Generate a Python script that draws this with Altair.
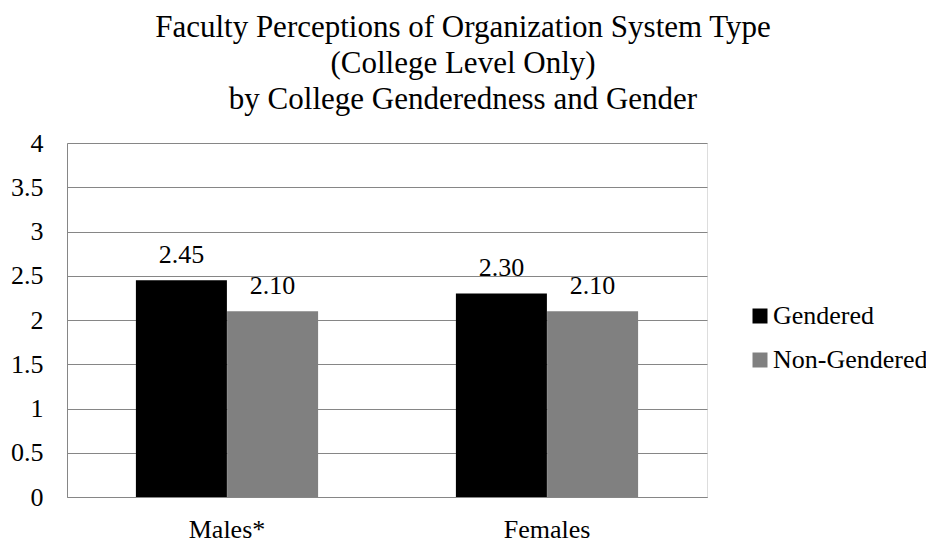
import altair as alt
import pandas as pd

categories = ["Males*", "Females"]
series = ["Gendered", "Non-Gendered"]
gendered = [2.45, 2.30]
non_gendered = [2.10, 2.10]
y_ticks = [0, 0.5, 1, 1.5, 2, 2.5, 3, 3.5, 4]
title_lines = [
    "Faculty Perceptions of Organization System Type",
    "(College Level Only)",
    "by College Genderedness and Gender",
]
colors = ["#000000", "#808080"]

rows = []
for i, c in enumerate(categories):
    rows.append({"group": c, "series": series[0], "value": gendered[i]})
    rows.append({"group": c, "series": series[1], "value": non_gendered[i]})
df = pd.DataFrame(rows)

FONT = "'Liberation Serif', 'Times New Roman', Times, serif"
GRID = "#868686"

x = alt.X(
    "group:N",
    sort=categories,
    title=None,
    scale=alt.Scale(paddingInner=0.43, paddingOuter=0.215),
    axis=alt.Axis(
        labelAngle=0, labelFont=FONT, labelFontSize=26, labelColor="black",
        ticks=False, tickSize=0, labelPadding=19, domainColor=GRID, grid=False,
    ),
)
xoff = alt.XOffset("series:N", sort=series, scale=alt.Scale(paddingInner=0, paddingOuter=0))
y = alt.Y(
    "value:Q",
    title=None,
    scale=alt.Scale(domain=[0, 4], nice=False),
    axis=alt.Axis(
        values=y_ticks, format="~g", labelFont=FONT, labelFontSize=26, labelColor="black",
        ticks=False, tickSize=0, labelPadding=24, domainColor=GRID,
        gridColor=GRID, gridWidth=1, grid=True,
    ),
)
color = alt.Color(
    "series:N",
    sort=series,
    scale=alt.Scale(domain=series, range=colors),
    legend=alt.Legend(
        title=None, orient="none", legendX=680, legendY=160,
        symbolType="square", symbolSize=225, symbolStrokeWidth=0,
        labelFont=FONT, labelFontSize=26, labelColor="black",
        rowPadding=18, padding=0, labelOffset=0, labelLimit=300,
    ),
)

base = alt.Chart(df).encode(x=x, xOffset=xoff, y=y)
bars = base.mark_bar(size=91).encode(color=color)
labels = base.mark_text(
    font=FONT, fontSize=26, color="black", baseline="alphabetic", dy=-17
).encode(text=alt.Text("value:Q", format=".2f"))

chart = (
    alt.layer(bars, labels)
    .properties(
        width=640,
        height=354,
        title=alt.TitleParams(
            text=title_lines, font=FONT, fontSize=31, fontWeight="normal",
            color="black", lineHeight=36, anchor="middle", dx=76, offset=14,
        ),
        autosize=alt.AutoSizeParams(type="none"),
        padding={"left": 67, "top": 143, "right": 219, "bottom": 46},
    )
    .configure_view(strokeWidth=0, stroke="transparent")
    .configure(background="white")
)

chart.save("out.html", embed_options={"renderer": "svg", "actions": False})
